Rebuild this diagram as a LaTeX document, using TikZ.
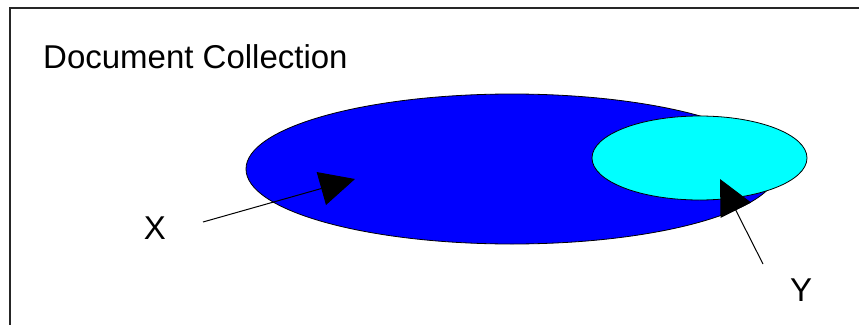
\documentclass[tikz,border=0pt]{standalone}
\usepackage{fontspec}
\setmainfont{Liberation Sans}
\usetikzlibrary{shapes.geometric,arrows.meta}
\definecolor{bigblue}{HTML}{0000FF}
\definecolor{smallcyan}{HTML}{00FFFF}
\tikzset{
  blob/.style={ellipse, draw=black, line width=0.8pt, inner sep=0pt},
  lbl/.style={font=\fontsize{33}{38}\selectfont, inner sep=0pt},
  pointer/.style={line width=1pt, -{Triangle[length=35pt,width=34pt]}},
  frameline/.style={line width=1.5pt, draw=black!85}
}
\begin{document}
\begin{tikzpicture}[x=1pt,y=-1pt]
  \useasboundingbox (0,0) rectangle (859,324);
  \coordinate (fb) at (10,330);
  \coordinate (fc) at (10,8);
  \coordinate (fr) at (865,8);
  \draw[frameline] (fb) -- (fc) -- (fr);
  \node[lbl, anchor=base west] (title) at (43,68) {Document Collection};
  \node[blob, fill=bigblue, minimum width=532pt, minimum height=150pt] (big) at (512,169) {};
  \node[blob, fill=smallcyan, minimum width=215pt, minimum height=84pt] (small) at (699.5,158) {};
  \node[lbl] (X) at (155,228) {X};
  \node[lbl] (Y) at (801,290.5) {Y};
  \coordinate (xs) at (203,222);
  \coordinate (xt) at (355,179);
  \coordinate (ys) at (763,264);
  \coordinate (yt) at (720,179);
  \draw[pointer] (xs) -- (xt);
  \draw[pointer] (ys) -- (yt);
\end{tikzpicture}
\end{document}
